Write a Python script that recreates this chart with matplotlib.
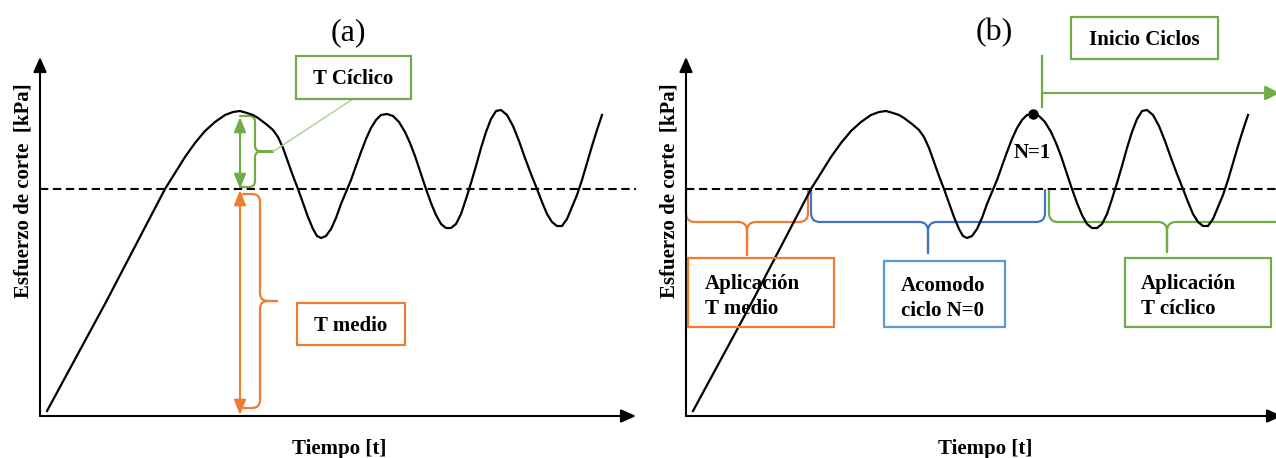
import matplotlib
matplotlib.use("Agg")
import matplotlib.pyplot as plt
from matplotlib.path import Path
from matplotlib.patches import PathPatch, Rectangle
import numpy as np

# Shear stress vs time trace (arbitrary units, same trace in both panels)
tiempo = [7, 66, 125, 135, 145, 155, 165, 175, 185, 193,
          200, 207, 213, 218, 226, 233, 238, 243, 248, 253, 258,
          263, 268, 273, 277, 281, 286, 291, 296, 301, 306,
          311, 316, 321, 326, 331, 336, 341, 347, 353, 359,
          365, 370, 375, 380, 386, 391, 396, 401, 406, 411,
          416, 421, 426, 431, 436, 441, 446, 451, 456, 461,
          467, 473, 479, 485, 491, 497, 502, 507, 512, 517,
          522, 527, 532, 537, 542, 547, 552, 557, 562]
esfuerzo = [5, 114, 227, 243, 259, 273, 285, 294, 301, 304,
            305, 303, 301, 298, 292, 286, 279, 268, 254, 240, 227,
            213, 199, 187, 180, 178, 180, 187, 198, 212, 224,
            236, 250, 264, 277, 288, 296, 301, 302, 300, 294,
            284, 273, 260, 245, 227, 213, 201, 192, 188, 188,
            192, 202, 217, 233, 250, 268, 284, 297, 305, 306,
            301, 290, 275, 258, 242, 227, 214, 202, 194, 190,
            190, 197, 209, 221, 236, 253, 270, 286, 301]
esfuerzo_medio = 227
t_cambio = 125         # mean stress reached
t_inicio_ciclos = 359  # start of cyclic loading

# first monotonic peak and first cyclic peak (N=1)
idx_pico = int(np.argmax(esfuerzo[:25]))
idx_n1 = 30 + int(np.argmax(esfuerzo[30:45]))

VERDE = "#70AD47"
VERDE_CLARO = "#A9D18E"
NARANJA = "#ED7D31"
AZUL = "#4472C4"
AZUL_CLARO = "#5B9BD5"
SERIF = "Liberation Serif"

W, H = 1276, 458
fig = plt.figure(figsize=(W / 100, H / 100), dpi=100)
panel_w = 646


def make_axes(x0):
    ax = fig.add_axes([x0 / W, 0, panel_w / W, 1])
    ax.set_xlim(-40, panel_w - 40)
    ax.set_ylim(-42, H - 42)
    ax.axis("off")
    return ax


def arrow(ax, start, end, color, style="-|>", hl=0.45, hw=0.2, lw=1.5):
    ax.annotate("", xy=end, xytext=start, annotation_clip=False,
                arrowprops=dict(arrowstyle=f"{style},head_length={hl},head_width={hw}",
                                color=color, lw=lw, shrinkA=0, shrinkB=0,
                                mutation_scale=20))


def brace(ax, p0, p1, d1, d2, r, color, lw=1.6):
    p0 = np.asarray(p0, float)
    p1 = np.asarray(p1, float)
    u = p1 - p0
    L = np.hypot(*u)
    u = u / L
    n = np.array([u[1], -u[0]])
    m = L / 2
    local = [
        ((0, 0), Path.MOVETO), ((0, d1 - r), Path.LINETO),
        ((0, d1), Path.CURVE3), ((r, d1), Path.CURVE3),
        ((m - r, d1), Path.LINETO),
        ((m, d1), Path.CURVE3), ((m, d1 + r), Path.CURVE3),
        ((m, d2), Path.LINETO),
        ((m, d2), Path.MOVETO), ((m, d1 + r), Path.LINETO),
        ((m, d1), Path.CURVE3), ((m + r, d1), Path.CURVE3),
        ((L - r, d1), Path.LINETO),
        ((L, d1), Path.CURVE3), ((L, d1 - r), Path.CURVE3),
        ((L, 0), Path.LINETO),
    ]
    verts = [p0 + a * u + b * n for (a, b), _ in local]
    codes = [c for _, c in local]
    ax.add_patch(PathPatch(Path(verts, codes), fill=False, edgecolor=color,
                           lw=lw, clip_on=False, capstyle="round"))
    return p0 + m * u + d2 * n


def box(ax, x0, y0, x1, y1, color):
    ax.add_patch(Rectangle((x0, y0), x1 - x0, y1 - y0, fill=False,
                           edgecolor=color, lw=1.6, clip_on=False, zorder=3))


def base_panel(ax, label):
    arrow(ax, (0, 0), (0, 359), "black")
    arrow(ax, (0, 0), (596, 0), "black")
    ax.plot([0, 596], [esfuerzo_medio, esfuerzo_medio], color="black", lw=1.5,
            ls=(0, (4, 2.2)), clip_on=False)
    ax.plot(tiempo, esfuerzo, color="black", lw=1.6, solid_joinstyle="round",
            clip_on=False, zorder=2)
    ax.text(308, 383, label, fontsize=23, family=SERIF, ha="center", va="center")
    ax.text(-16.5, 225, "Esfuerzo de corte  [kPa]", rotation=90, fontsize=15,
            fontweight="bold", family=SERIF, ha="center", va="center")
    ax.text(299, -33, "Tiempo [t]", fontsize=15, fontweight="bold", family=SERIF,
            ha="center", va="center")


txt = dict(fontsize=15, fontweight="bold", family=SERIF, color="black")

# ---------------- panel (a) ----------------
ax_a = make_axes(0)
base_panel(ax_a, "(a)")
t_pico = tiempo[idx_pico]
arrow(ax_a, (t_pico, 299), (t_pico, esfuerzo_medio), VERDE, style="<|-|>",
      hl=0.45, hw=0.18)
arrow(ax_a, (t_pico, esfuerzo_medio - 1), (t_pico, 1), NARANJA, style="<|-|>",
      hl=0.45, hw=0.18)
tip = brace(ax_a, (t_pico, 229), (t_pico, 300), 15, 33, 6, VERDE)
ax_a.plot([tip[0], 313], [tip[1], 317], color=VERDE_CLARO, lw=1.0)
brace(ax_a, (t_pico + 3, 8), (t_pico + 3, 222), 17, 34, 8, NARANJA)
box(ax_a, 256, 317, 371, 360, VERDE)
ax_a.text(313.5, 337, "T Cíclico", ha="center", va="center", **txt)
box(ax_a, 257, 71, 365, 113, NARANJA)
ax_a.text(311, 90, "T medio", ha="center", va="center", **txt)

# ---------------- panel (b) ----------------
ax_b = make_axes(646)
base_panel(ax_b, "(b)")
ax_b.plot(tiempo[idx_n1], esfuerzo[idx_n1], "o", color="black", ms=6.5, zorder=4)
ax_b.text(tiempo[idx_n1] - 1, 263, "N=1", ha="center", va="center", **txt)

ax_b.plot([t_inicio_ciclos - 3, t_inicio_ciclos - 3], [309, 360], color=VERDE, lw=1.6)
arrow(ax_b, (t_inicio_ciclos - 3, 323), (594, 323), VERDE, hl=0.45, hw=0.22)
box(ax_b, 385, 357, 532, 399, VERDE)
ax_b.text(458.5, 376, "Inicio Ciclos", ha="center", va="center", **txt)

brace(ax_b, (0, 226), (t_cambio - 3, 226), 32, 65, 9, NARANJA)
brace(ax_b, (t_cambio, 226), (t_inicio_ciclos, 226), 32, 63, 9, AZUL)
brace(ax_b, (t_inicio_ciclos + 4, 226), (599, 226), 32, 62, 9, VERDE)

box(ax_b, 2, 89, 148, 158, NARANJA)
ax_b.text(19, 119.5, "Aplicación\nT medio", ha="left", va="center",
          linespacing=1.3, **txt)
box(ax_b, 198, 89, 319, 155, AZUL_CLARO)
ax_b.text(215, 117.5, "Acomodo\nciclo N=0", ha="left", va="center",
          linespacing=1.3, **txt)
box(ax_b, 439, 89, 585, 158, VERDE)
ax_b.text(455, 119.5, "Aplicación\nT cíclico", ha="left", va="center",
          linespacing=1.3, **txt)

fig.savefig("out.png", dpi=100)
